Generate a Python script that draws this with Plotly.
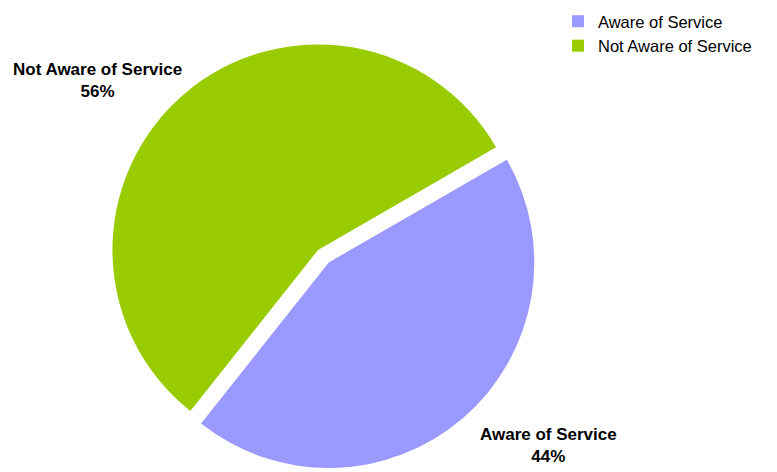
import plotly.graph_objects as go

# Awareness split
labels = ["Aware of Service", "Not Aware of Service"]
values = [44, 56]
colors = ["#9999FF", "#99CC00"]

W, H = 777, 472

total = sum(values)
pcts = [round(v * 100 / total) for v in values]

fig = go.Figure(
    go.Pie(
        labels=labels,
        values=values,
        marker=dict(colors=colors, line=dict(width=0)),
        sort=False,
        direction="clockwise",
        rotation=60,
        pull=[0.08, 0],
        textinfo="none",
        hoverinfo="label+percent",
        domain=dict(x=[88 / W, 548 / W], y=[0, 444 / H]),
    )
)

# Slice labels with their percentages
label_pos = {
    "Not Aware of Service": (98, 80),
    "Aware of Service": (548, 445),
}
annotations = []
for lab, p in zip(labels, pcts):
    px, py = label_pos[lab]
    annotations.append(
        dict(
            text=f"<b>{lab}<br>{p}%</b>",
            x=px / W,
            y=1 - py / H,
            xref="paper",
            yref="paper",
            xanchor="center",
            yanchor="middle",
            showarrow=False,
            align="center",
            font=dict(family="Liberation Sans, Arial, sans-serif", size=17, color="#000000"),
        )
    )

fig.update_layout(
    width=W,
    height=H,
    margin=dict(l=0, r=0, t=0, b=0),
    paper_bgcolor="white",
    plot_bgcolor="white",
    annotations=annotations,
    showlegend=True,
    legend=dict(
        x=558 / W,
        y=1 - 4 / H,
        xanchor="left",
        yanchor="top",
        font=dict(family="Liberation Sans, Arial, sans-serif", size=16.5, color="#000000"),
        bgcolor="rgba(0,0,0,0)",
    ),
)

fig.write_html("out.html")
